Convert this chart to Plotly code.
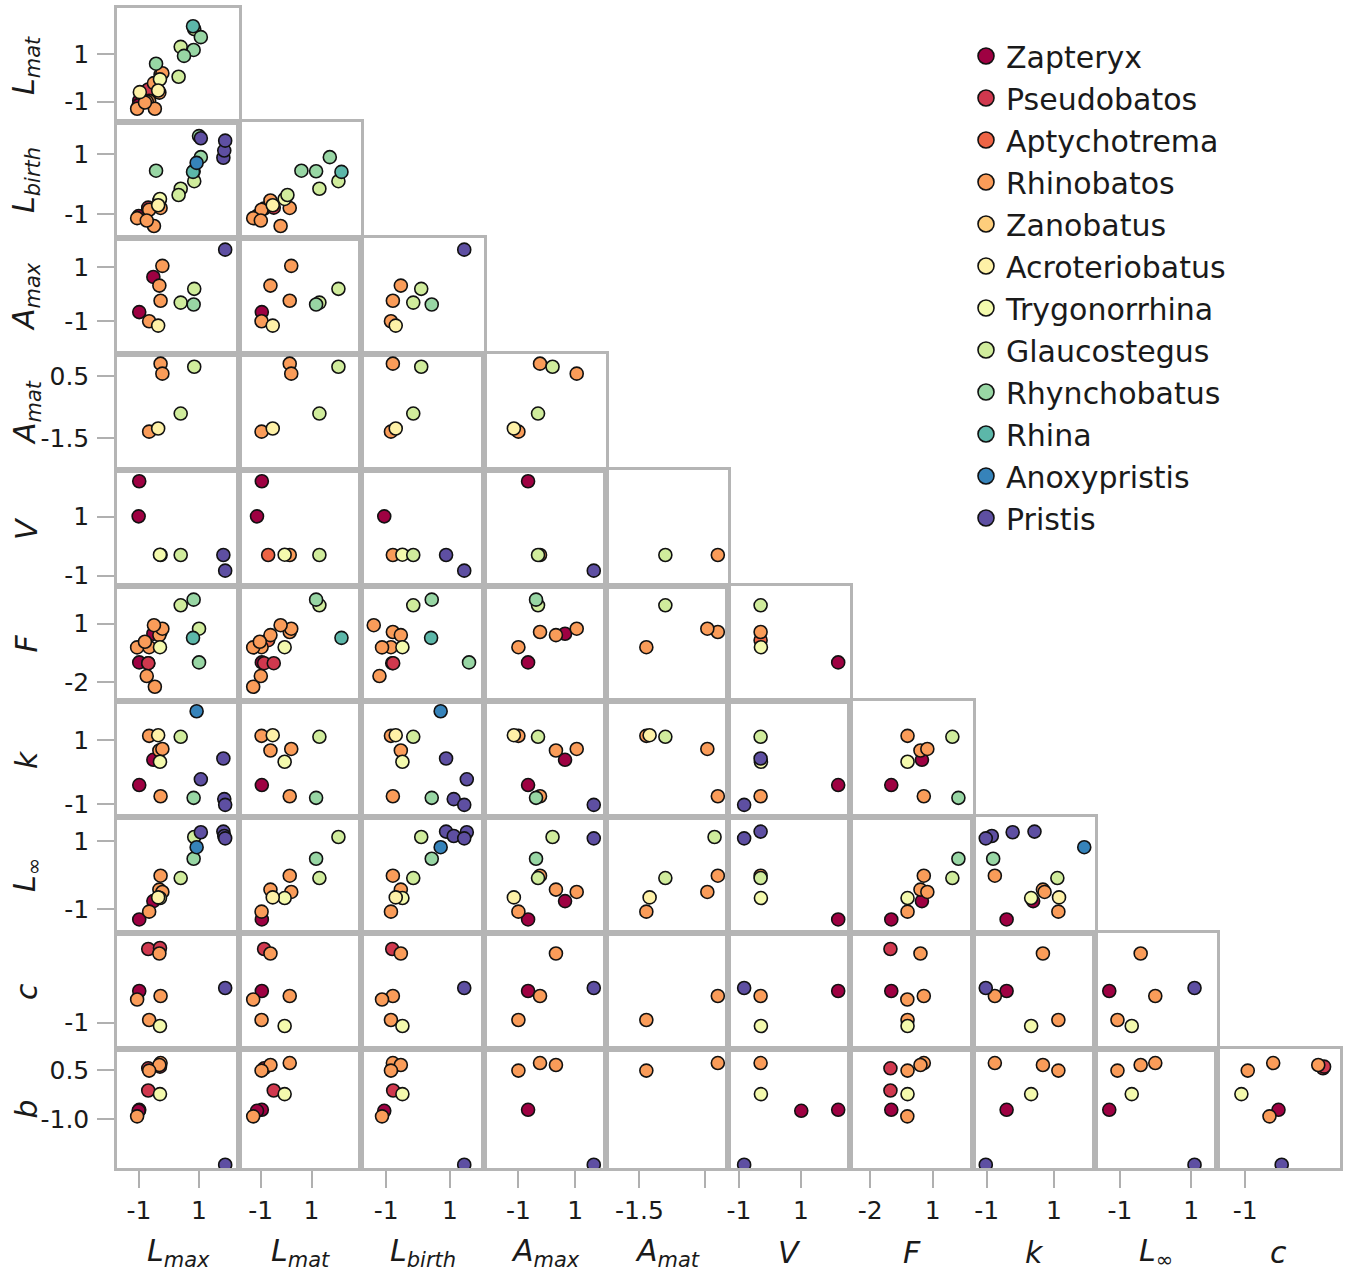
import numpy as np
import plotly.graph_objects as go

N = None

genera = ["Zapteryx", "Pseudobatos", "Aptychotrema", "Rhinobatos", "Zanobatus",
          "Acroteriobatus", "Trygonorrhina", "Glaucostegus", "Rhynchobatus",
          "Rhina", "Anoxypristis", "Pristis"]
genus_colors = ["#9E0142", "#D0384E", "#EE6445", "#FA9C59", "#FECE7C", "#FEF1A7",
                "#F4FAAD", "#D0EC9C", "#98D6A4", "#5CB7A9", "#3683BA", "#5E4FA2"]

# one entry per observation (standardised trait values, None = not available)
genus = ["Zapteryx", "Zapteryx", "Zapteryx", "Pseudobatos", "Pseudobatos", "Pseudobatos",
         "Aptychotrema", "Rhinobatos", "Rhinobatos", "Rhinobatos", "Rhinobatos", "Rhinobatos",
         "Rhinobatos", "Rhinobatos", "Rhinobatos", "Rhinobatos", "Trygonorrhina",
         "Acroteriobatus", "Acroteriobatus", "Glaucostegus", "Glaucostegus", "Glaucostegus",
         "Glaucostegus", "Rhynchobatus", "Rhynchobatus", "Rhynchobatus", "Rhynchobatus",
         "Rhynchobatus", "Rhina", "Anoxypristis", "Pristis", "Pristis", "Pristis", "Pristis"]
Lmax = [-0.99, -1.01, -0.52, -0.69, -0.69, -0.30, N, -0.28, -0.32, -0.66, -0.22, -1.06,
        -0.50, -0.74, -0.47, -0.80, -0.30, -0.36, -0.97, 0.84, 0.39, 0.32, 1.00, 1.06,
        0.82, 0.50, -0.43, 1.00, 0.80, 0.92, 1.81, 1.06, 1.84, 1.87]
Lmat = [-0.96, -1.15, N, -0.87, -0.49, N, -0.71, 0.14, -0.62, -0.97, 0.20, -1.30,
        -0.22, -1.00, -1.30, -1.04, -0.06, -0.53, -0.60, 2.06, 1.31, 0.05, N, 1.72,
        1.18, 0.93, 0.60, N, 2.18, N, N, N, N, N]
Lbirth = [N, -1.06, N, -0.81, -0.78, N, N, -0.79, -0.54, -0.85, N, -1.13,
          -1.39, -1.21, N, N, -0.49, -0.70, N, 0.10, -0.15, -0.36, N, 0.90,
          0.43, N, 0.45, 1.60, 0.41, 0.71, 0.88, 1.53, 1.12, 1.45]
Amax = [-0.66, N, 0.64, N, N, N, N, -0.24, 0.32, -1.00, 1.05, N,
        N, N, N, N, N, -1.16, N, 0.20, -0.31, N, N, N,
        -0.38, N, N, N, N, N, N, N, N, 1.65]
Amat = [N, N, N, N, N, N, N, 0.89, N, -1.29, 0.57, N,
        N, N, N, N, N, -1.19, N, 0.79, -0.71, N, N, N,
        N, N, N, N, N, N, N, N, N, N]
V = [2.20, 1.01, N, N, N, N, -0.30, -0.30, N, N, N, N,
     N, N, N, N, -0.29, N, N, N, -0.30, N, N, N,
     N, N, N, N, N, N, -0.30, N, N, -0.83]
F = [-0.99, N, 0.48, -1.03, -1.03, N, 0.15, 0.57, 0.41, -0.21, 0.74, -0.22,
     0.92, -1.69, -2.24, 0.07, -0.21, N, N, N, 1.94, N, 0.74, N,
     2.23, N, N, -0.99, 0.27, N, N, N, N, N]
k = [-0.41, N, 0.38, N, N, N, N, -0.76, 0.67, 1.13, 0.72, N,
     N, N, N, N, 0.32, 1.15, N, N, 1.10, N, N, N,
     -0.81, N, N, N, N, 1.90, 0.42, -0.23, -0.85, -1.03]
Linf = [-1.30, N, -0.76, N, N, N, N, -0.01, -0.42, -1.07, -0.49, N,
        N, N, N, N, -0.67, -0.65, N, 1.13, -0.08, N, N, N,
        0.49, N, N, N, N, 0.83, 1.29, 1.27, 1.16, 1.09]
c = [-0.37, N, N, 0.47, N, 0.49, N, -0.47, 0.38, -0.95, N, -0.54,
     N, N, N, N, -1.07, N, N, N, N, N, N, N,
     N, N, N, N, N, N, N, N, N, -0.31]
b = [-0.72, -0.75, N, 0.55, -0.13, 0.60, N, 0.71, 0.65, 0.48, N, -0.92,
     N, N, N, N, -0.24, N, N, N, N, N, N, N,
     N, N, N, N, N, N, N, N, N, -2.40]

variables = ["Lmax", "Lmat", "Lbirth", "Amax", "Amat", "V", "F", "k", "Linf", "c", "b"]
data = {"Lmax": Lmax, "Lmat": Lmat, "Lbirth": Lbirth, "Amax": Amax, "Amat": Amat,
        "V": V, "F": F, "k": k, "Linf": Linf, "c": c, "b": b}
labels = {"Lmax": "<i>L<sub>max</sub></i>", "Lmat": "<i>L<sub>mat</sub></i>",
          "Lbirth": "<i>L<sub>birth</sub></i>", "Amax": "<i>A<sub>max</sub></i>",
          "Amat": "<i>A<sub>mat</sub></i>", "V": "<i>V</i>", "F": "<i>F</i>",
          "k": "<i>k</i>", "Linf": "<i>L<sub>∞</sub></i>", "c": "<i>c</i>", "b": "<i>b</i>"}
ranges = {"Lmax": [-1.73, 2.33], "Lmat": [-1.86, 2.95], "Lbirth": [-1.79, 2.07],
          "Amax": [-2.21, 2.08], "Amat": [-2.52, 1.20], "V": [-1.35, 2.58],
          "F": [-2.97, 2.93], "k": [-1.41, 2.22], "Linf": [-1.70, 1.72],
          "c": [-1.53, 0.79], "b": [-2.50, 1.14]}
xticks = {"Lmax": ([-1, 1], ["-1", "1"]), "Lmat": ([-1, 1], ["-1", "1"]),
          "Lbirth": ([-1, 1], ["-1", "1"]), "Amax": ([-1, 1], ["-1", "1"]),
          "Amat": ([-1.5, 0.5], ["-1.5", " "]), "V": ([-1, 1], ["-1", "1"]),
          "F": ([-2, 1], ["-2", "1"]), "k": ([-1, 1], ["-1", "1"]),
          "Linf": ([-1, 1], ["-1", "1"]), "c": ([-1], ["-1"])}
yticks = {"Lmat": ([-1, 1], ["-1", "1"]), "Lbirth": ([-1, 1], ["-1", "1"]),
          "Amax": ([-1, 1], ["-1", "1"]), "Amat": ([-1.5, 0.5], ["-1.5", "0.5"]),
          "V": ([-1, 1], ["-1", "1"]), "F": ([-2, 1], ["-2", "1"]),
          "k": ([-1, 1], ["-1", "1"]), "Linf": ([-1, 1], ["-1", "1"]),
          "c": ([-1], ["-1"]), "b": ([-1.0, 0.5], ["-1.0", "0.5"])}

# page geometry (the body margin is removed by the post script below)
W, H = 1347, 1272
col_edges = [117, 239, 361, 484, 606, 728, 850, 973, 1095, 1217, 1340]
row_edges = [8, 122, 238, 354, 470, 586, 701, 817, 933, 1049, 1168]


def px(x):
    return x / W


def py(y):
    return 1 - y / H


FONT = "DejaVu Sans, Liberation Sans, Arial, sans-serif"
cmap = dict(zip(genera, genus_colors))
pt_colors = [cmap[g] for g in genus]

fig = go.Figure()
layout = {}
row_vars = variables[1:]
col_vars = variables[:-1]
n = 0
for i, rv in enumerate(row_vars):
    for j in range(i + 1):
        cv = col_vars[j]
        n += 1
        sx = "" if n == 1 else str(n)
        xs, ys, cs, tx = [], [], [], []
        for idx in range(len(genus)):
            xv, yv = data[cv][idx], data[rv][idx]
            if xv is None or yv is None:
                continue
            xs.append(xv); ys.append(yv); cs.append(pt_colors[idx]); tx.append(genus[idx])
        fig.add_trace(go.Scatter(
            x=xs, y=ys, mode="markers", xaxis="x" + sx, yaxis="y" + sx,
            text=tx, showlegend=False, hoverinfo="text+x+y",
            marker=dict(size=13, color=cs, line=dict(color="#111111", width=1.6))))
        bottom = (i == len(row_vars) - 1)
        left = (j == 0)
        xa = dict(domain=[px(col_edges[j]), px(col_edges[j + 1])],
                  range=ranges[cv],
                  anchor="y" + sx, showgrid=False, zeroline=False, showline=True,
                  mirror=True, linecolor="#b5b5b5", linewidth=2.5, automargin=False,
                  showticklabels=bottom, ticks="outside" if bottom else "",
                  ticklen=17, tickwidth=1.5, tickcolor="#b0b0b0",
                  tickfont=dict(family=FONT, size=25, color="#1a1a1a"))
        if bottom:
            xa["tickvals"], xa["ticktext"] = xticks[cv]
            xa["ticklabelstandoff"] = 1
        else:
            xa["tickvals"] = []
        ya = dict(domain=[py(row_edges[i + 1]), py(row_edges[i])],
                  range=ranges[rv],
                  anchor="x" + sx, showgrid=False, zeroline=False, showline=True,
                  mirror=True, linecolor="#b5b5b5", linewidth=2.5, automargin=False,
                  showticklabels=left, ticks="outside" if left else "",
                  ticklen=17, tickwidth=1.5, tickcolor="#b0b0b0",
                  tickfont=dict(family=FONT, size=25, color="#1a1a1a"))
        if left:
            ya["tickvals"], ya["ticktext"] = yticks[rv]
            ya["ticklabelstandoff"] = 3
        else:
            ya["tickvals"] = []
        layout["xaxis" + sx] = xa
        layout["yaxis" + sx] = ya

# legend entries
for g, col in zip(genera, genus_colors):
    fig.add_trace(go.Scatter(x=[None], y=[None], mode="markers", name=g,
                             marker=dict(size=18, color=col, line=dict(color="#111111", width=1.6))))

annotations = []
for j, cv in enumerate(col_vars):
    xc = px((col_edges[j] + col_edges[j + 1]) / 2)
    annotations.append(dict(text=labels[cv], x=xc, y=py(1252), xref="paper", yref="paper",
                            showarrow=False, font=dict(family=FONT, size=30, color="#1a1a1a"),
                            xanchor="center", yanchor="middle"))
for i, rv in enumerate(row_vars):
    yc = py((row_edges[i] + row_edges[i + 1]) / 2)
    annotations.append(dict(text=labels[rv], x=px(26), y=yc, xref="paper", yref="paper",
                            showarrow=False, textangle=-90,
                            font=dict(family=FONT, size=30, color="#1a1a1a"),
                            xanchor="center", yanchor="middle"))

fig.update_layout(
    width=W, height=H, margin=dict(l=0, r=0, t=0, b=0, autoexpand=False),
    paper_bgcolor="white", plot_bgcolor="white",
    showlegend=True,
    legend=dict(x=px(966), y=py(30), xanchor="left", yanchor="top",
                font=dict(family=FONT, size=30, color="#1a1a1a"),
                bgcolor="rgba(0,0,0,0)", itemsizing="trace", tracegroupgap=0),
    annotations=annotations,
    **layout)

fig.write_html("out.html",
               config={"displayModeBar": False},
               post_script="document.body.style.margin='0px';"
                           "document.body.style.overflow='hidden';")
